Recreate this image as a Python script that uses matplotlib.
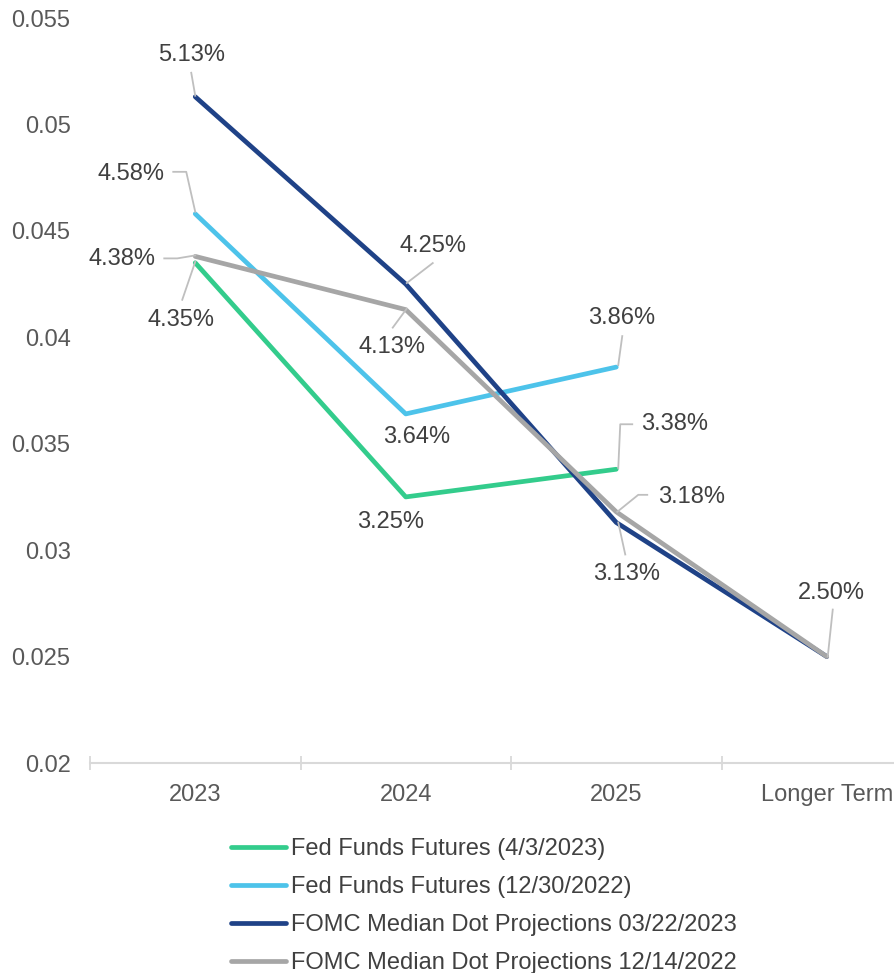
import matplotlib
matplotlib.use('Agg')
import matplotlib.pyplot as plt
from matplotlib.lines import Line2D
from matplotlib.transforms import IdentityTransform
from matplotlib.ticker import FuncFormatter, FixedLocator

plt.rcParams['font.family'] = ['Liberation Sans', 'DejaVu Sans']

categories = ['2023', '2024', '2025', 'Longer Term']

futures_apr = [0.0435, 0.0325, 0.0338]
futures_dec = [0.0458, 0.0364, 0.0386]
fomc_mar = [0.0513, 0.0425, 0.0313, 0.0250]
fomc_dec = [0.0438, 0.0413, 0.0318, 0.0250]

series = [
    ('Fed Funds Futures (4/3/2023)', futures_apr, '#33CC8C'),
    ('Fed Funds Futures (12/30/2022)', futures_dec, '#4DC3EA'),
    ('FOMC Median Dot Projections 03/22/2023', fomc_mar, '#1F4287'),
    ('FOMC Median Dot Projections 12/14/2022', fomc_dec, '#A6A6A6'),
]

# label placement: (series index, point index, text offset px, leader vertices px)
labels = [
    (2, 0, (-4, 42), [(-4, 24), (0, 1)]),
    (1, 0, (-64, 40), [(-22, 42), (-9, 42), (0, 2)]),
    (3, 0, (-73, -3), [(-31, -2), (-18, -2), (0, 1)]),
    (0, 0, (-14, -57), [(-13, -37), (0, 1)]),
    (2, 1, (27, 38), [(27, 21), (1, 1)]),
    (3, 1, (-14, -37), [(-13, -18), (1, 1)]),
    (1, 1, (11, -23), None),
    (0, 1, (-15, -25), None),
    (1, 2, (5, 49), [(6, 31), (2, 2)]),
    (0, 2, (58, 45), [(16, 45), (4, 45), (2, 1)]),
    (3, 2, (75, 15), [(31, 17), (22, 17), (1, 0)]),
    (2, 2, (10, -52), [(9, -32), (2, 0)]),
    (3, 3, (5, 64), [(6, 47), (1, 0)]),
]

FS = 17

fig = plt.figure(figsize=(8.94, 9.73), dpi=100)
ax = fig.add_axes([90 / 894, 1 - 763 / 973, 842 / 894, 745 / 973])

handles = []
for name, vals, col in series:
    ln, = ax.plot(range(len(vals)), vals, color=col, lw=3.4,
                  solid_capstyle='round', solid_joinstyle='round', label=name)
    handles.append(ln)

ax.set_xlim(-0.5, 3.5)
ax.set_ylim(0.02, 0.055)
ax.set_yticks([0.02, 0.025, 0.03, 0.035, 0.04, 0.045, 0.05, 0.055])
ax.yaxis.set_major_formatter(FuncFormatter(lambda v, p: f'{v:g}'))
ax.set_xticks(range(4))
ax.set_xticklabels(categories)
ax.xaxis.set_minor_locator(FixedLocator([-0.5, 0.5, 1.5, 2.5, 3.5]))
ax.tick_params(axis='x', which='major', length=0, pad=15, labelsize=FS, labelcolor='#595959')
ax.tick_params(axis='x', which='minor', length=10, direction='inout', color='#D9D9D9', width=1.3)
ax.tick_params(axis='y', length=0, pad=14, labelsize=FS, labelcolor='#595959')
for s in ['left', 'top', 'right']:
    ax.spines[s].set_visible(False)
ax.spines['bottom'].set_color('#D9D9D9')
ax.spines['bottom'].set_linewidth(1.5)

# data labels with leader lines
for si, pi, (dx, dy), leader in labels:
    v = series[si][1][pi]
    ax.annotate(f'{v * 100:.2f}%', xy=(pi, v), xytext=(dx, dy), textcoords='offset pixels',
                ha='center', va='center', fontsize=FS, color='#404040')
    if leader:
        px, py = ax.transData.transform((pi, v))
        xs = [px + a for a, b in leader]
        ys = [py + b for a, b in leader]
        fig.add_artist(Line2D(xs, ys, transform=IdentityTransform(), color='#BFBFBF', lw=1.3))

fig.legend(handles=handles, loc='upper left', bbox_to_anchor=(231 / 894, 1 - 838 / 973),
           frameon=False, fontsize=FS, labelcolor='#404040', handlelength=2.33,
           handletextpad=0.2, labelspacing=0.68, borderpad=0, borderaxespad=0)

fig.savefig('out.png', dpi=100)
